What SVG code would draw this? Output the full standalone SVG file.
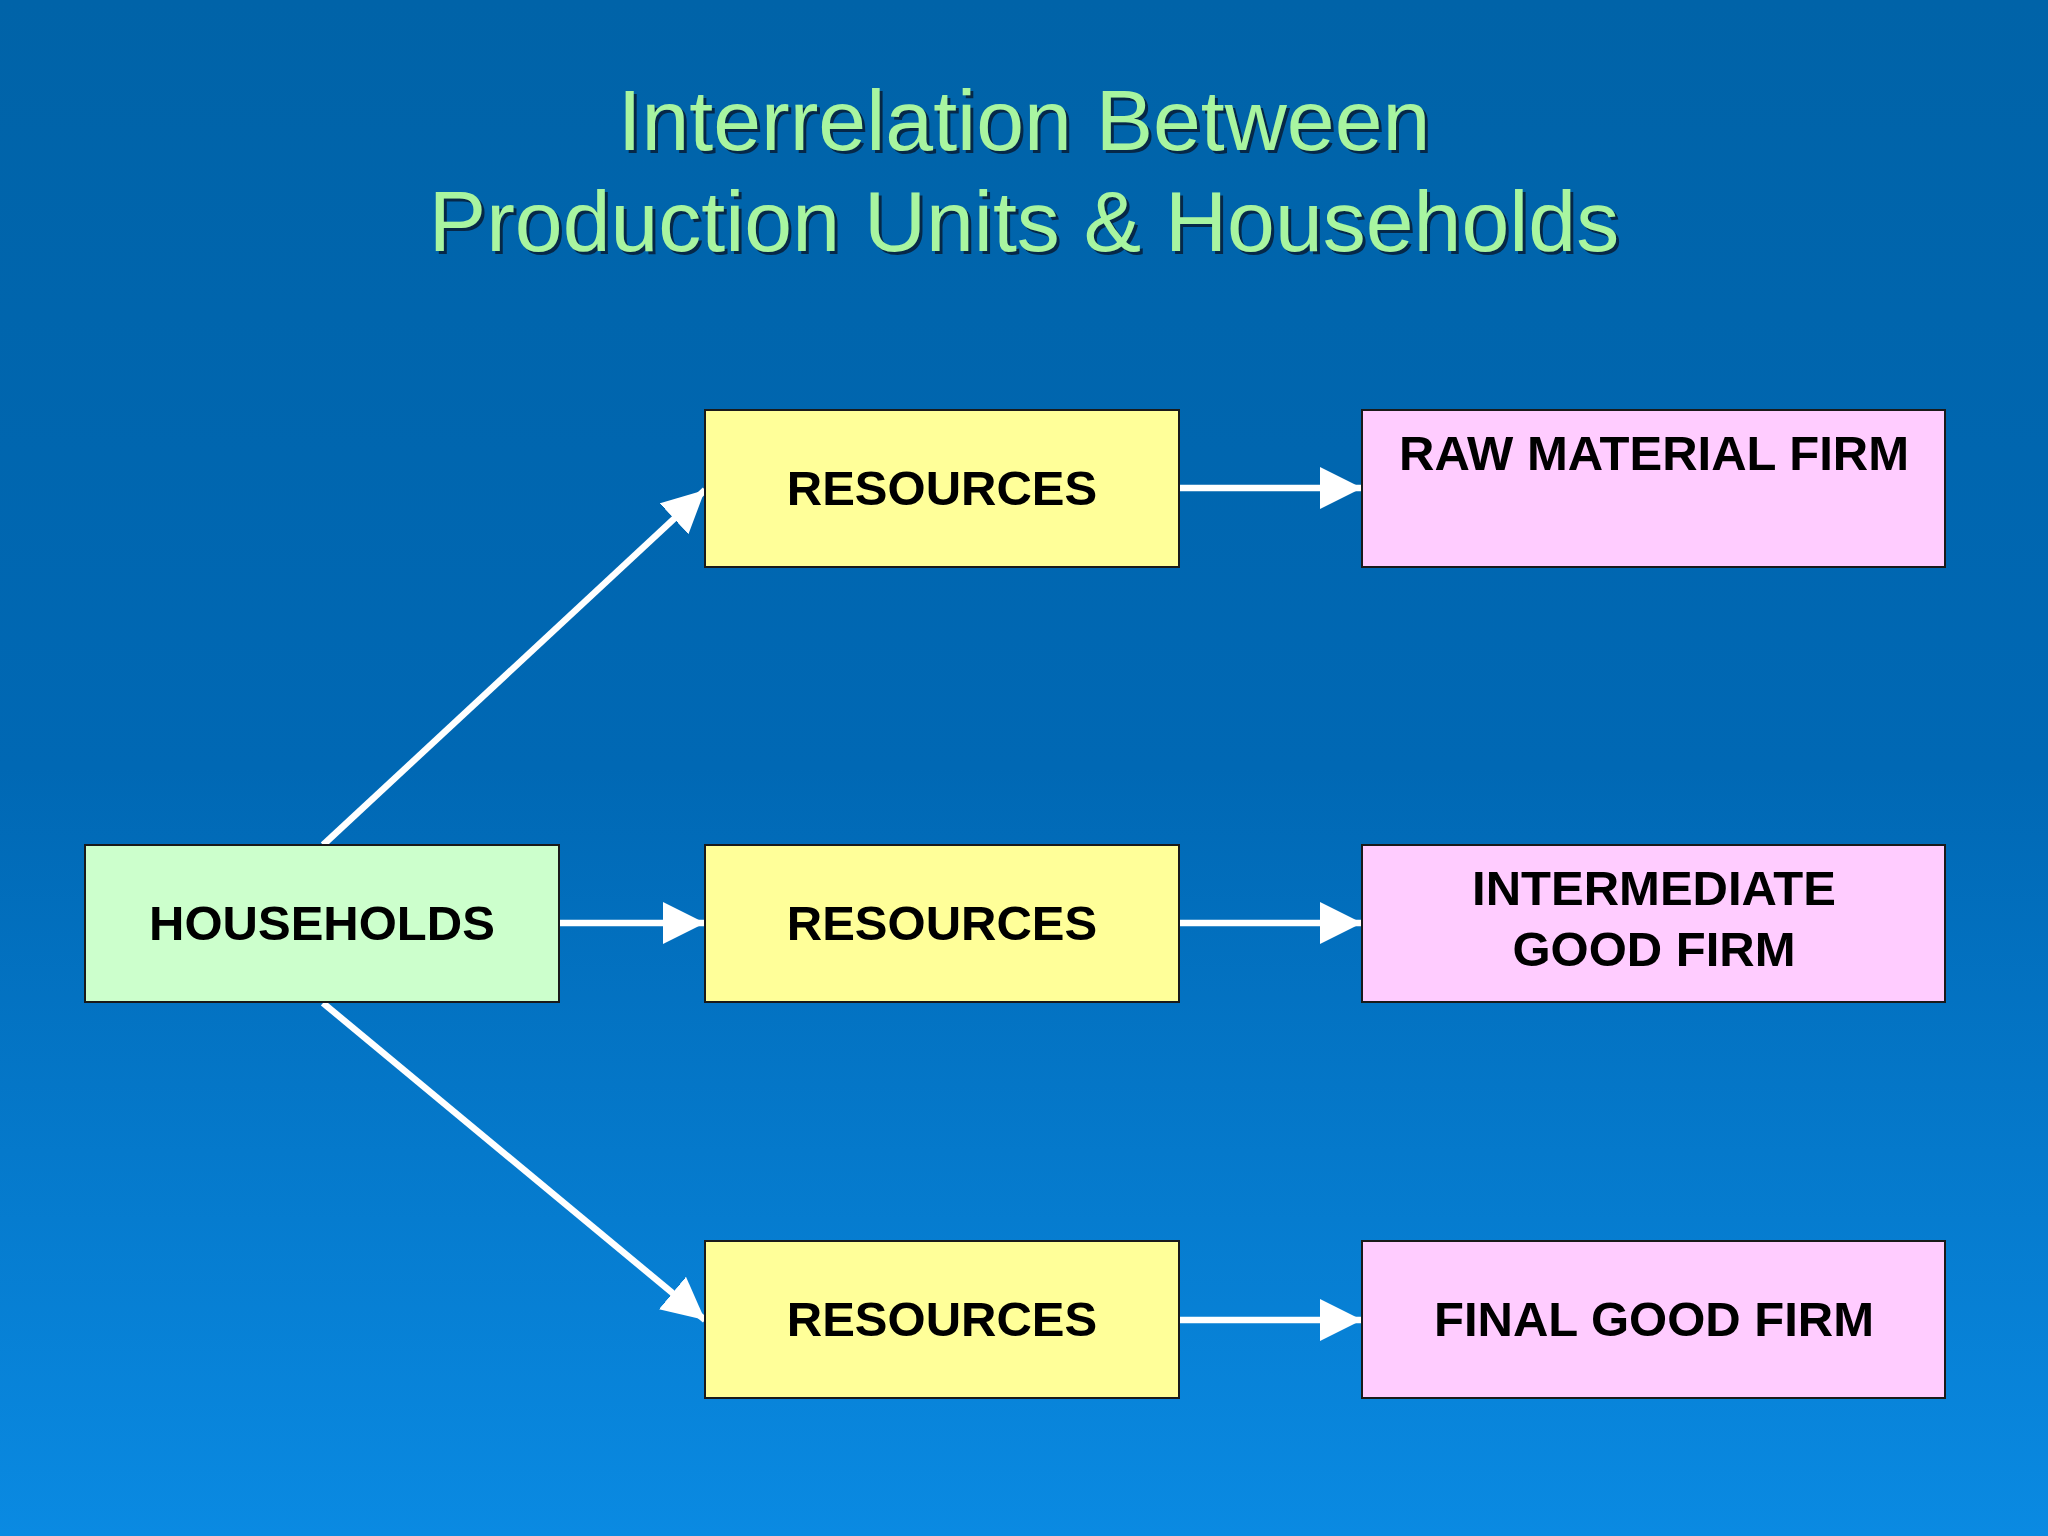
<svg xmlns="http://www.w3.org/2000/svg" width="2048" height="1536" viewBox="0 0 2048 1536">
<defs>
<linearGradient id="bg" x1="0" y1="0" x2="0" y2="1">
<stop offset="0" stop-color="#0063a8"/>
<stop offset="0.5" stop-color="#0068b4"/>
<stop offset="1" stop-color="#0a8ae2"/>
</linearGradient>
<marker id="ah" viewBox="0 0 10 10" refX="10" refY="5" markerWidth="6.5" markerHeight="6.5" markerUnits="strokeWidth" orient="auto">
<path d="M0,0 L10,5 L0,10 z" fill="#fff"/>
</marker>
<style>
.box{stroke:#1a1a1a;stroke-width:2}
.t{font-family:"Liberation Sans",Arial,sans-serif;font-weight:bold;font-size:49px;fill:#000;text-anchor:middle}
.c{stroke:#fff;stroke-width:6.5;fill:none;marker-end:url(#ah)}
.title{font-family:"Liberation Sans",Arial,sans-serif;font-size:86px;fill:#a8f5a0;text-anchor:middle}
</style>
</defs>
<rect width="2048" height="1536" fill="url(#bg)"/>
<g id="title">
<text class="title" x="1027" y="153" fill="#06284a" style="fill:#062848">Interrelation Between</text>
<text class="title" x="1027" y="254" style="fill:#062848">Production Units &amp; Households</text>
<text class="title" x="1024" y="150">Interrelation Between</text>
<text class="title" x="1024" y="251">Production Units &amp; Households</text>
</g>
<g id="connectors">
<line class="c" x1="323" y1="845" x2="705" y2="490"/>
<line class="c" x1="559" y1="923" x2="705" y2="923"/>
<line class="c" x1="323" y1="1003" x2="705" y2="1320"/>
<line class="c" x1="1179" y1="488" x2="1362" y2="488"/>
<line class="c" x1="1179" y1="923" x2="1362" y2="923"/>
<line class="c" x1="1179" y1="1320" x2="1362" y2="1320"/>
</g>
<g id="households"><rect class="box" x="85" y="845" width="474" height="157" fill="#ccffcc"/><text class="t" x="322" y="940">HOUSEHOLDS</text></g>
<g id="res1"><rect class="box" x="705" y="410" width="474" height="157" fill="#ffff99"/><text class="t" x="942" y="505">RESOURCES</text></g>
<g id="res2"><rect class="box" x="705" y="845" width="474" height="157" fill="#ffff99"/><text class="t" x="942" y="940">RESOURCES</text></g>
<g id="res3"><rect class="box" x="705" y="1241" width="474" height="157" fill="#ffff99"/><text class="t" x="942" y="1336">RESOURCES</text></g>
<g id="firm1"><rect class="box" x="1362" y="410" width="583" height="157" fill="#ffccff"/><text class="t" x="1654" y="470">RAW MATERIAL FIRM</text></g>
<g id="firm2"><rect class="box" x="1362" y="845" width="583" height="157" fill="#ffccff"/><text class="t" x="1654" y="905">INTERMEDIATE</text><text class="t" x="1654" y="966">GOOD FIRM</text></g>
<g id="firm3"><rect class="box" x="1362" y="1241" width="583" height="157" fill="#ffccff"/><text class="t" x="1654" y="1336">FINAL GOOD FIRM</text></g>
</svg>
